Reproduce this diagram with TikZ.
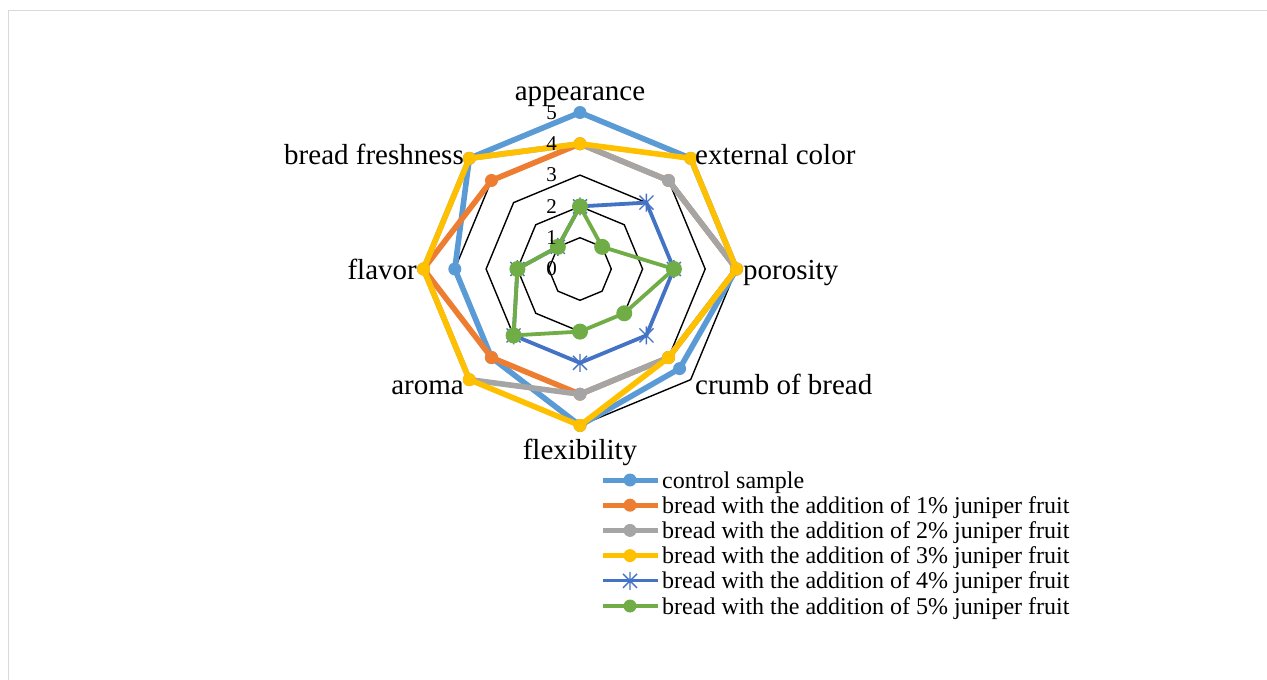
\documentclass[tikz,border=0pt]{standalone}
\usepackage{fontspec}
\setmainfont{Liberation Serif}
\definecolor{cctrl}{HTML}{5B9BD5}
\definecolor{cone}{HTML}{ED7D31}
\definecolor{ctwo}{HTML}{A5A5A5}
\definecolor{cthree}{HTML}{FFC000}
\definecolor{cfour}{HTML}{4472C4}
\definecolor{cfive}{HTML}{70AD47}
\definecolor{framegray}{HTML}{D9D9D9}

% point k of a series: axis k runs clockwise from the top, 31.3 units per score point
\newcommand\radarpts[2]{\foreach \v [count=\k from 0] in {#2}
  \coordinate (#1-\k) at ({-90+45*\k}:{\v*31.3});}
\newcommand\radarline[2]{\draw[#2] (#1-0)--(#1-1)--(#1-2)--(#1-3)--(#1-4)--(#1-5)--(#1-6)--(#1-7)--cycle;}
\newcommand\radardots[3]{\foreach \k in {0,...,7} \fill[#2] (#1-\k) circle (#3);}
\newcommand\radarstars[1]{\foreach \k in {0,...,7} \pic at (#1-\k) {asterisk};}

\tikzset{
  gridring/.style={draw=black, line width=1.4, line join=miter},
  thickseries/.style={line width=5.6, line join=round},
  thinseries/.style={line width=3.8, line join=round},
  ticklabel/.style={font=\fontsize{21}{21}\selectfont, anchor=east, inner sep=0},
  catlabel/.style={font=\fontsize{29}{29}\selectfont, inner sep=0},
  legtext/.style={font=\fontsize{24}{24}\selectfont, anchor=base west, inner sep=0},
  asterisk/.pic={\draw[cfour, line width=1.4] (0,-9)--(0,9) (-7,-7)--(7,7) (-7,7)--(7,-7);}
}

\begin{document}
\begin{tikzpicture}[x=1pt,y=-1pt]
\useasboundingbox (0,0) rectangle (1267,680);
% open chart-area border
\draw[framegray, line width=1.2] (1267,10.5) -- (8.5,10.5) -- (8.5,680);

\begin{scope}[shift={(580,269)}]
  % grid rings 1..5
  \foreach \r in {1,...,5}
    \draw[gridring] ({-90}:{\r*31.3}) \foreach \k in {1,...,7} { -- ({-90+45*\k}:{\r*31.3}) } -- cycle;

  % scores: appearance, external color, porosity, crumb of bread,
  % flexibility, aroma, flavor, bread freshness
  \radarpts{sa}{5,5,5,4.5,5,4,4,5}
  \radarpts{sb}{4,4,5,4,4,4,5,4}
  \radarpts{sc}{4,4,5,4,4,5,5,5}
  \radarpts{sd}{4,5,5,4,5,5,5,5}
  \radarpts{se}{2,3,3,3,3,3,2,1}
  \radarpts{sf}{2,1,3,2,2,3,2,1}

  \radarline{sa}{cctrl, thickseries}  \radardots{sa}{cctrl}{6.5}
  \radarline{sb}{cone, thickseries}   \radardots{sb}{cone}{6.5}
  \radarline{sc}{ctwo, thickseries}   \radardots{sc}{ctwo}{6.5}
  \radarline{sd}{cthree, thickseries} \radardots{sd}{cthree}{6.5}
  \radarline{se}{cfour, thinseries}   \radarstars{se}
  \radarline{sf}{cfive, thinseries}   \radardots{sf}{cfive}{8}

  % value axis labels
  \foreach \t in {0,...,5}
    \node[ticklabel] (tick\t) at (-23,{-\t*31.3}) {\t};
\end{scope}

% category labels
\node[catlabel, anchor=base]      (lapp)  at (580,100) {appearance};
\node[catlabel, anchor=base west] (lext)  at (695,164) {external color};
\node[catlabel, anchor=base west] (lpor)  at (743,279) {porosity};
\node[catlabel, anchor=base west] (lcrb)  at (695,394) {crumb of bread};
\node[catlabel, anchor=base]      (lflx)  at (580,459) {flexibility};
\node[catlabel, anchor=base east] (laro)  at (464,394) {aroma};
\node[catlabel, anchor=base east] (lfla)  at (417,279) {flavor};
\node[catlabel, anchor=base east] (lfre)  at (464,164) {bread freshness};

% legend
\foreach \i/\col/\w/\txt in {
  0/cctrl/5/{control sample},
  1/cone/5/{bread with the addition of 1\% juniper fruit},
  2/ctwo/5/{bread with the addition of 2\% juniper fruit},
  3/cthree/5/{bread with the addition of 3\% juniper fruit},
  4/cfour/3.2/{bread with the addition of 4\% juniper fruit},
  5/cfive/3.2/{bread with the addition of 5\% juniper fruit}} {
  \coordinate (lga\i) at (603,{480+25.2*\i});
  \coordinate (lgb\i) at (658,{480+25.2*\i});
  \coordinate (lgm\i) at (630,{480+25.2*\i});
  \draw[\col, line width=\w] (lga\i) -- (lgb\i);
  \node[legtext] (lgt\i) at (662,{488+25.2*\i}) {\txt};
}
\foreach \i/\col in {0/cctrl,1/cone,2/ctwo,3/cthree,5/cfive}
  \fill[\col] (lgm\i) circle (6.5);
\pic at (lgm4) {asterisk};
\end{tikzpicture}
\end{document}
